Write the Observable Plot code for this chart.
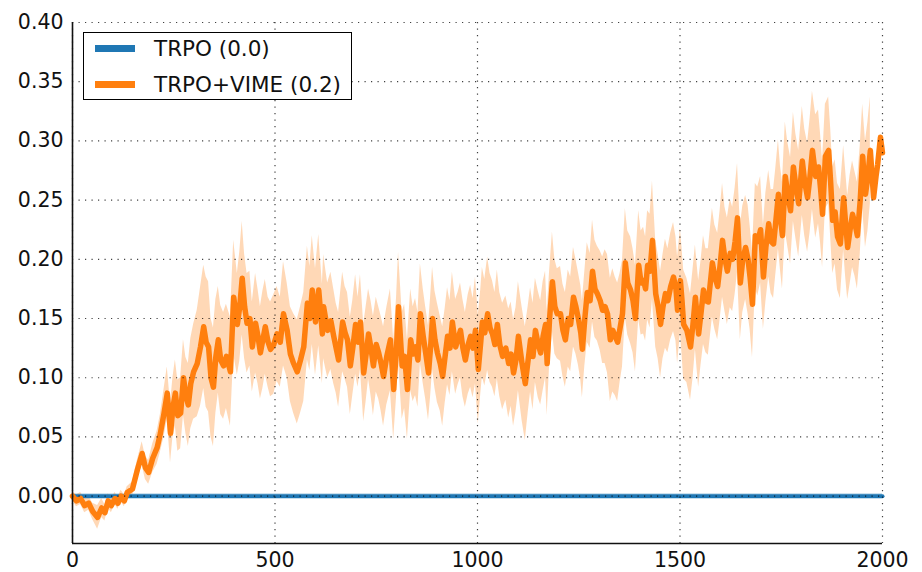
<!DOCTYPE html>
<html>
<head>
<meta charset="utf-8">
<script src="https://cdn.jsdelivr.net/npm/d3@7"></script>
<script src="https://cdn.jsdelivr.net/npm/@observablehq/plot@0.6"></script>
<style>
  html, body { margin: 0; padding: 0; background: #fff; }
  #wrap { position: relative; width: 922px; height: 572px; font-family: "DejaVu Sans", sans-serif; }
  #legend { position: absolute; left: 83px; top: 32px; width: 267px; height: 66px; border: 1.5px solid #000; background: #fff; }
  .item { position: absolute; left: 0; display: flex; align-items: center; font-size: 21.5px; color: #111; }
  .sw { width: 40px; height: 7px; margin-left: 11px; margin-right: 19px; }
</style>
</head>
<body>
<div id="wrap"></div>
<script>
const seriesNames = ["TRPO (0.0)", "TRPO+VIME (0.2)"];
const seriesColors = ["#1f77b4", "#ff7f0e"];
const xTicks = [0, 500, 1000, 1500, 2000];
const yTicks = [0, 0.05, 0.10, 0.15, 0.20, 0.25, 0.30, 0.35, 0.40];
const xDomain = [0, 2000];
const yDomain = [-0.04, 0.40];

// TRPO baseline (flat zero)
const trpoSteps = [0, 2000];
const trpoMean = [0, 0];
const trpoSpread = [0.002, 0.002];

// TRPO+VIME mean and spread
const vimeSteps = [0,10,20,30,40,50,62,72,80,88,96,105,112,120,128,135,148,160,172,180,188,198,209,217,226,234,242,248,254,260,267,274,280,286,292,299,308,316,324,330,336,342,348,354,360,366,373,380,390,398,407,413,419,425,431,438,444,452,458,464,470,476,483,489,497,505,513,521,530,538,546,555,563,571,580,586,592,600,608,617,620,630,638,645,651,657,667,673,679,686,692,699,705,711,719,725,731,737,743,750,756,762,768,776,785,793,800,805,814,820,827,835,841,847,853,859,866,872,879,884,889,895,901,908,914,920,926,932,938,946,952,958,964,970,977,983,989,995,1002,1008,1012,1018,1025,1031,1037,1043,1049,1055,1062,1070,1077,1083,1089,1095,1101,1110,1118,1125,1131,1137,1143,1150,1156,1162,1168,1172,1178,1185,1191,1197,1205,1211,1217,1224,1230,1237,1243,1249,1255,1259,1265,1271,1278,1284,1290,1296,1303,1309,1315,1321,1328,1334,1340,1346,1352,1358,1365,1371,1378,1384,1390,1398,1404,1410,1415,1420,1426,1432,1440,1446,1452,1458,1464,1470,1477,1484,1490,1494,1501,1505,1509,1517,1526,1532,1538,1546,1552,1558,1564,1570,1580,1586,1593,1599,1605,1611,1617,1624,1630,1636,1642,1649,1655,1662,1668,1673,1679,1686,1692,1699,1706,1712,1719,1725,1731,1736,1743,1748,1753,1760,1766,1773,1780,1786,1793,1802,1808,1815,1821,1827,1835,1842,1847,1852,1859,1867,1872,1877,1883,1889,1896,1904,1909,1914,1920,1926,1932,1938,1945,1951,1958,1964,1970,1978,1984,1988,1995,2000];
const vimeMean = [0.000,-0.004,-0.002,-0.008,-0.006,-0.013,-0.018,-0.010,-0.014,-0.004,-0.008,-0.002,-0.006,0.000,-0.004,0.003,0.006,0.022,0.036,0.024,0.020,0.032,0.041,0.053,0.070,0.087,0.053,0.075,0.087,0.068,0.070,0.100,0.085,0.077,0.095,0.105,0.112,0.126,0.143,0.130,0.126,0.100,0.092,0.118,0.132,0.115,0.110,0.118,0.105,0.168,0.145,0.160,0.184,0.160,0.146,0.150,0.126,0.146,0.135,0.121,0.132,0.143,0.130,0.124,0.128,0.137,0.130,0.154,0.140,0.120,0.112,0.105,0.115,0.126,0.163,0.150,0.174,0.147,0.174,0.137,0.160,0.140,0.148,0.135,0.125,0.115,0.147,0.138,0.132,0.110,0.125,0.145,0.130,0.147,0.104,0.120,0.137,0.125,0.110,0.128,0.121,0.112,0.101,0.118,0.132,0.090,0.125,0.160,0.110,0.118,0.090,0.132,0.120,0.126,0.115,0.154,0.135,0.121,0.104,0.125,0.150,0.132,0.121,0.112,0.101,0.118,0.135,0.125,0.147,0.126,0.133,0.140,0.125,0.115,0.128,0.135,0.125,0.140,0.107,0.130,0.147,0.138,0.154,0.142,0.137,0.128,0.145,0.128,0.118,0.125,0.112,0.120,0.104,0.115,0.135,0.112,0.095,0.115,0.132,0.118,0.140,0.128,0.121,0.135,0.145,0.112,0.150,0.181,0.160,0.154,0.154,0.140,0.132,0.150,0.145,0.168,0.160,0.150,0.138,0.124,0.150,0.172,0.165,0.190,0.175,0.171,0.165,0.157,0.160,0.154,0.132,0.140,0.135,0.130,0.142,0.154,0.197,0.180,0.174,0.165,0.150,0.195,0.180,0.182,0.175,0.195,0.190,0.216,0.171,0.160,0.145,0.160,0.171,0.165,0.177,0.185,0.175,0.157,0.182,0.165,0.145,0.140,0.126,0.145,0.168,0.137,0.155,0.174,0.165,0.164,0.197,0.185,0.177,0.195,0.216,0.200,0.190,0.205,0.200,0.215,0.235,0.180,0.200,0.210,0.200,0.185,0.162,0.220,0.215,0.225,0.185,0.210,0.230,0.215,0.213,0.230,0.255,0.235,0.220,0.270,0.255,0.241,0.278,0.262,0.247,0.283,0.265,0.252,0.270,0.292,0.270,0.278,0.260,0.238,0.287,0.292,0.265,0.233,0.240,0.219,0.213,0.252,0.230,0.210,0.225,0.238,0.230,0.220,0.250,0.287,0.255,0.270,0.292,0.252,0.270,0.280,0.303,0.290];
const vimeSpread = [0.004,0.005,0.005,0.006,0.006,0.007,0.010,0.008,0.007,0.006,0.006,0.005,0.005,0.005,0.005,0.005,0.006,0.008,0.010,0.010,0.010,0.012,0.014,0.016,0.020,0.022,0.025,0.025,0.028,0.030,0.030,0.032,0.032,0.035,0.038,0.040,0.045,0.050,0.052,0.055,0.055,0.050,0.050,0.048,0.045,0.046,0.045,0.044,0.046,0.048,0.043,0.046,0.048,0.044,0.042,0.040,0.038,0.042,0.040,0.039,0.041,0.040,0.038,0.040,0.042,0.040,0.038,0.044,0.040,0.040,0.042,0.044,0.045,0.046,0.048,0.044,0.046,0.045,0.047,0.042,0.044,0.040,0.041,0.040,0.038,0.040,0.042,0.039,0.040,0.041,0.040,0.042,0.038,0.040,0.041,0.040,0.038,0.040,0.042,0.040,0.039,0.040,0.042,0.041,0.043,0.042,0.042,0.046,0.045,0.044,0.042,0.043,0.040,0.041,0.040,0.042,0.040,0.039,0.040,0.042,0.043,0.041,0.042,0.040,0.042,0.040,0.041,0.040,0.042,0.040,0.039,0.040,0.041,0.040,0.042,0.043,0.042,0.045,0.046,0.044,0.046,0.045,0.048,0.046,0.045,0.044,0.046,0.044,0.045,0.044,0.046,0.044,0.045,0.044,0.046,0.048,0.048,0.045,0.044,0.045,0.044,0.045,0.044,0.046,0.045,0.044,0.040,0.042,0.040,0.038,0.040,0.039,0.040,0.041,0.040,0.042,0.040,0.039,0.040,0.041,0.040,0.042,0.040,0.043,0.041,0.040,0.042,0.045,0.048,0.050,0.052,0.052,0.050,0.050,0.046,0.045,0.046,0.044,0.045,0.044,0.045,0.046,0.044,0.045,0.044,0.046,0.048,0.050,0.045,0.044,0.045,0.044,0.046,0.044,0.045,0.046,0.044,0.045,0.044,0.045,0.046,0.044,0.045,0.046,0.044,0.045,0.044,0.046,0.044,0.045,0.046,0.044,0.045,0.046,0.048,0.044,0.045,0.046,0.044,0.045,0.046,0.048,0.045,0.044,0.046,0.044,0.045,0.044,0.046,0.045,0.044,0.046,0.045,0.044,0.046,0.045,0.046,0.044,0.045,0.046,0.044,0.045,0.046,0.044,0.045,0.046,0.045,0.046,0.048,0.050,0.052,0.048,0.046,0.045,0.044,0.045,0.046,0.045,0.044,0.045,0.046,0.044,0.045,0.044,0.046,0.045,0.044,0.045,0.046,0.044,0.045,0.046,0.045];

const trpo = trpoSteps.map((x, i) => ({x, y: trpoMean[i], lo: trpoMean[i] - trpoSpread[i], hi: trpoMean[i] + trpoSpread[i]}));
const vime = vimeSteps.map((x, i) => ({x, y: vimeMean[i], lo: vimeMean[i] - vimeSpread[i], hi: vimeMean[i] + vimeSpread[i]}));

const gridStyle = {stroke: "#000", strokeOpacity: 0.75, strokeWidth: 1.2, strokeDasharray: "1.2,5.3"};

const chart = Plot.plot({
  width: 922,
  height: 572,
  marginLeft: 72,
  marginRight: 40,
  marginTop: 22,
  marginBottom: 29,
  style: {fontFamily: "DejaVu Sans, sans-serif", fontSize: "20.5px", color: "#111", background: "#fff", overflow: "visible"},
  x: {domain: xDomain, label: null},
  y: {domain: yDomain, label: null},
  marks: [
    Plot.areaY(trpo, {x: "x", y1: "lo", y2: "hi", fill: seriesColors[0], fillOpacity: 0.3}),
    Plot.areaY(vime, {x: "x", y1: "lo", y2: "hi", fill: seriesColors[1], fillOpacity: 0.3}),
    Plot.lineY(trpo, {x: "x", y: "y", stroke: seriesColors[0], strokeWidth: 4}),
    Plot.lineY(vime, {x: "x", y: "y", stroke: seriesColors[1], strokeWidth: 5.5, strokeLinejoin: "round"}),
    Plot.gridX(xTicks, gridStyle),
    Plot.gridY(yTicks, gridStyle),
    Plot.ruleX([xDomain[0]], {stroke: "#111", strokeWidth: 1.6}),
    Plot.ruleY([yDomain[0]], {stroke: "#111", strokeWidth: 1.6}),
    Plot.axisX({ticks: xTicks, tickSize: 0, tickPadding: 9, tickFormat: d3.format("d"), fontSize: 20.5}),
    Plot.axisY({ticks: yTicks, tickSize: 0, tickPadding: 9, tickFormat: d3.format(".2f"), fontSize: 20.5})
  ]
});

const wrap = document.getElementById("wrap");
wrap.appendChild(chart);

const legend = document.createElement("div");
legend.id = "legend";
seriesNames.forEach((name, i) => {
  const item = document.createElement("div");
  item.className = "item";
  item.style.top = (i === 0 ? 3 : 39) + "px";
  const sw = document.createElement("span");
  sw.className = "sw";
  sw.style.background = seriesColors[i];
  const t = document.createElement("span");
  t.textContent = name;
  item.appendChild(sw);
  item.appendChild(t);
  legend.appendChild(item);
});
wrap.appendChild(legend);
</script>
</body>
</html>
